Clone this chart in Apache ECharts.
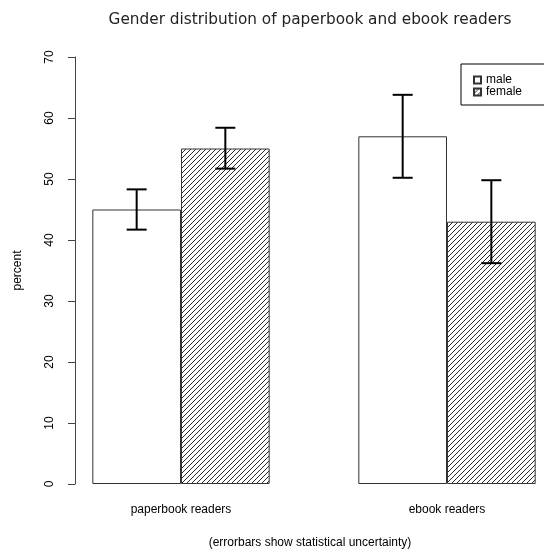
<!DOCTYPE html>
<html>
<head>
<meta charset="utf-8">
<script src="https://cdn.jsdelivr.net/npm/echarts@6/dist/echarts.min.js"></script>
<style>
html,body{margin:0;padding:0;background:#fff;}
#chart{width:544px;height:549px;}
</style>
</head>
<body>
<div id="chart"></div>
<script>
const categories = ['paperbook readers', 'ebook readers'];
const seriesNames = ['male', 'female'];
const maleValues = [45, 57];
const femaleValues = [55, 43];
const maleLow = [41.7, 50.2];
const maleHigh = [48.3, 63.8];
const femaleLow = [51.7, 36.2];
const femaleHigh = [58.4, 49.8];
const yTicks = [0, 10, 20, 30, 40, 50, 60, 70];

// hatch pattern
const tile = 5;
const pc = document.createElement('canvas');
pc.width = tile; pc.height = tile;
const pctx = pc.getContext('2d');
pctx.fillStyle = '#fff';
pctx.fillRect(0, 0, tile, tile);
pctx.strokeStyle = '#111';
pctx.lineWidth = 0.9;
pctx.beginPath();
pctx.moveTo(-1, tile + 1); pctx.lineTo(tile + 1, -1);
pctx.moveTo(-1, 1); pctx.lineTo(1, -1);
pctx.moveTo(tile - 1, tile + 1); pctx.lineTo(tile + 1, tile - 1);
pctx.stroke();
const hatch = { image: pc, repeat: 'repeat' };

function errData(low, high) {
  return categories.map((c, i) => [i, low[i], high[i]]);
}

function errRender(side) {
  return function (params, api) {
    const i = api.value(0);
    const lo = api.coord([i, api.value(1)]);
    const hi = api.coord([i, api.value(2)]);
    const band = api.size([1, 0])[0];
    const barW = band / 3;
    const x = lo[0] + side * barW / 2;
    const cap = 10;
    const st = { stroke: '#000', lineWidth: 2 };
    return {
      type: 'group',
      children: [
        { type: 'line', shape: { x1: x, y1: lo[1], x2: x, y2: hi[1] }, style: st },
        { type: 'line', shape: { x1: x - cap, y1: lo[1], x2: x + cap, y2: lo[1] }, style: st },
        { type: 'line', shape: { x1: x - cap, y1: hi[1], x2: x + cap, y2: hi[1] }, style: st }
      ]
    };
  };
}

const chart = echarts.init(document.getElementById('chart'), null, { renderer: 'canvas' });
chart.setOption({
  animation: false,
  backgroundColor: '#fff',
  textStyle: { fontFamily: 'Liberation Sans' },
  title: [
    {
      text: 'Gender distribution of paperbook and ebook readers',
      left: 310, top: 13, textAlign: 'center', padding: 0,
      textStyle: { fontFamily: 'DejaVu Sans', fontSize: 15.3, fontWeight: 'normal', color: '#222' }
    },
    {
      text: '(errorbars show statistical uncertainty)',
      left: 310, top: 537, textAlign: 'center', padding: 0,
      textStyle: { fontFamily: 'Liberation Sans', fontSize: 12, fontWeight: 'normal', color: '#000' }
    }
  ],
  legend: {
    data: seriesNames,
    orient: 'vertical',
    left: 461, top: 64,
    padding: [10, 30, 7, 12],
    itemGap: 0,
    itemWidth: 7, itemHeight: 7,
    icon: 'rect',
    borderColor: '#000', borderWidth: 1,
    textStyle: { fontFamily: 'Liberation Sans', fontSize: 12, color: '#000' }
  },
  grid: { left: 48, width: 532, top: 57, bottom: 65, outerBoundsMode: 'none', containLabel: false },
  xAxis: {
    type: 'category',
    data: categories,
    axisLine: { show: false },
    axisTick: { show: false },
    axisLabel: { margin: 20, fontSize: 12, color: '#000', fontFamily: 'Liberation Sans' },
    splitLine: { show: false }
  },
  yAxis: {
    type: 'value',
    min: 0, max: 70, interval: 10,
    offset: -27,
    name: 'percent',
    nameLocation: 'middle',
    nameGap: 51,
    nameRotate: 90,
    nameTextStyle: { fontFamily: 'Liberation Sans', fontSize: 12, color: '#000' },
    axisLine: { show: true, lineStyle: { color: '#444', width: 1 } },
    axisTick: { show: true, length: 7, lineStyle: { color: '#444', width: 1 } },
    axisLabel: { rotate: 90, margin: 19, fontSize: 12, color: '#000', fontFamily: 'Liberation Sans',
      formatter: v => (yTicks.indexOf(v) >= 0 ? String(v) : '') },
    splitLine: { show: false }
  },
  series: [
    {
      name: 'male', type: 'bar', data: maleValues,
      barWidth: '33.3333%', barGap: 0,
      itemStyle: { color: '#fff', borderColor: '#333', borderWidth: 1 }
    },
    {
      name: 'female', type: 'bar', data: femaleValues,
      barWidth: '33.3333%', barGap: 0,
      itemStyle: { color: hatch, borderColor: '#333', borderWidth: 1 }
    },
    {
      name: 'male error', type: 'custom', renderItem: errRender(-1),
      data: errData(maleLow, maleHigh), z: 5, encode: { x: 0, y: [1, 2] }
    },
    {
      name: 'female error', type: 'custom', renderItem: errRender(1),
      data: errData(femaleLow, femaleHigh), z: 5, encode: { x: 0, y: [1, 2] }
    }
  ]
});
</script>
</body>
</html>
